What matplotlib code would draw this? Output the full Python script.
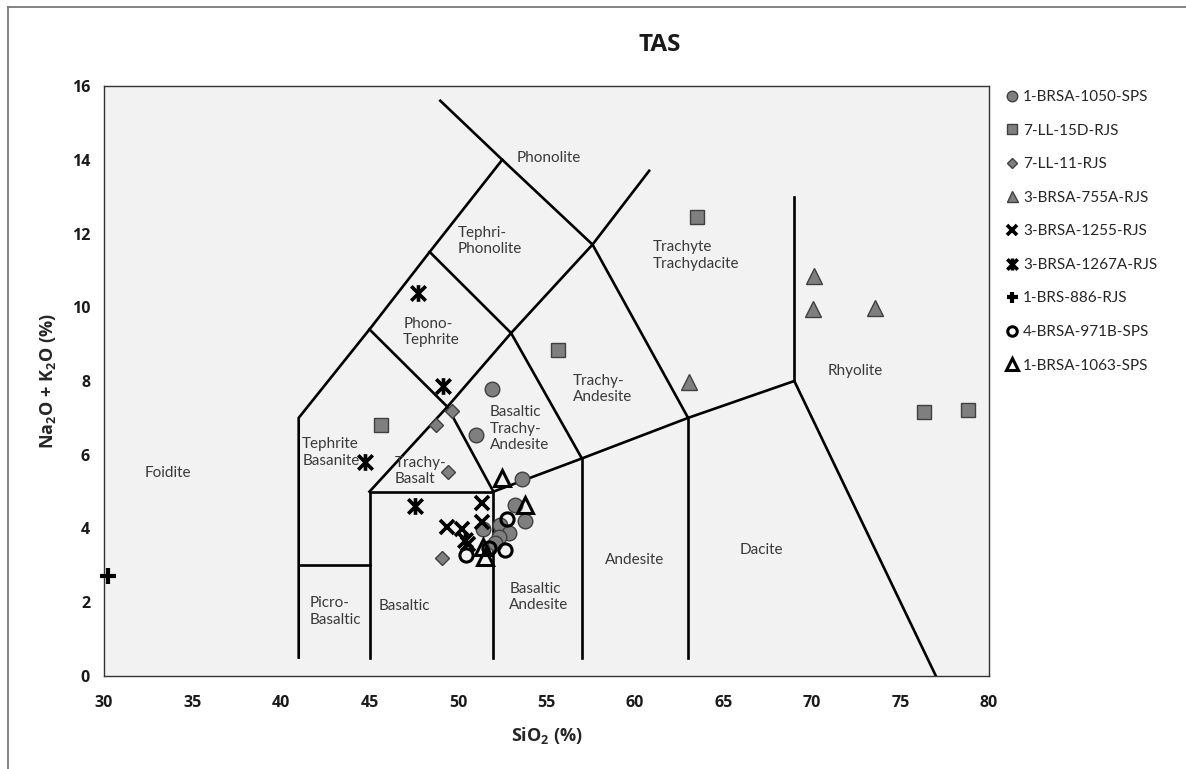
import matplotlib
matplotlib.use("Agg")
import matplotlib.pyplot as plt
from matplotlib.path import Path
from matplotlib.lines import Line2D

plt.rcParams['font.family'] = ['Lato', 'DejaVu Sans']
plt.rcParams['mathtext.default'] = 'regular'
BOLD_FAMILY = ['Open Sans', 'DejaVu Sans']

# ---- sample data (SiO2 %, Na2O + K2O %) ----
s1050_x = [51.9, 51.0, 53.6, 53.2, 53.8, 52.4, 52.9, 51.4, 52.3, 52.1]
s1050_y = [7.78, 6.54, 5.34, 4.64, 4.21, 4.09, 3.87, 3.98, 3.78, 3.60]

s15d_x = [45.65, 55.65, 63.5, 76.3, 78.8]
s15d_y = [6.81, 8.84, 12.46, 7.17, 7.22]

s11_x = [49.64, 48.76, 49.45, 49.08]
s11_y = [7.19, 6.80, 5.52, 3.19]

s755a_x = [70.13, 70.07, 73.56, 63.05]
s755a_y = [10.86, 9.94, 9.99, 7.97]

s1255_x = [51.34, 51.34, 49.36, 50.2, 50.55]
s1255_y = [4.68, 4.18, 4.05, 4.00, 3.58]

s1267a_x = [47.72, 49.17, 44.75, 47.57, 50.4]
s1267a_y = [10.38, 7.86, 5.81, 4.61, 3.69]

s886_x = [30.24]
s886_y = [2.71]

s971b_x = [52.75, 50.48, 52.65, 51.75]
s971b_y = [4.27, 3.28, 3.42, 3.48]

s1063_x = [52.46, 53.79, 51.43, 51.53]
s1063_y = [5.36, 4.64, 3.51, 3.24]

# ---- TAS field boundaries ----
tas_lines = [
    [(41, 0.5), (41, 7), (45, 9.4), (48.4, 11.5), (52.5, 14), (49.0, 15.6)],
    [(41, 3), (45, 3)],
    [(45, 0.5), (45, 5), (52, 5), (52, 0.5)],
    [(45, 5), (49.4, 7.3), (53, 9.3), (57.6, 11.7), (60.8, 13.7)],
    [(45, 9.4), (49.4, 7.3), (52, 5)],
    [(48.4, 11.5), (53, 9.3), (57, 5.9)],
    [(52.5, 14), (57.6, 11.7), (63, 7)],
    [(52, 5), (57, 5.9), (63, 7), (69, 8), (77.0, 0)],
    [(57, 0.5), (57, 5.9)],
    [(63, 0.5), (63, 7)],
    [(69, 8), (69, 13)],
]

field_labels = [
    ("Phonolite", 53.3, 14.05),
    ("Tephri-\nPhonolite", 50.0, 11.8),
    ("Trachyte\nTrachydacite", 61.0, 11.4),
    ("Phono-\nTephrite", 46.9, 9.33),
    ("Basaltic\nTrachy-\nAndesite", 51.8, 6.71),
    ("Trachy-\nAndesite", 56.5, 7.78),
    ("Rhyolite", 70.9, 8.28),
    ("Tephrite\nBasanite", 41.2, 6.07),
    ("Trachy-\nBasalt", 46.4, 5.56),
    ("Foidite", 32.3, 5.5),
    ("Picro-\nBasaltic", 41.6, 1.74),
    ("Basaltic", 45.5, 1.9),
    ("Basaltic\nAndesite", 52.9, 2.14),
    ("Andesite", 58.3, 3.15),
    ("Dacite", 65.9, 3.42),
]

# asterisk marker: an X crossed by a vertical bar
star_path = Path(
    [(-1, -1), (1, 1), (-1, 1), (1, -1), (0, -1.15), (0, 1.15)],
    [Path.MOVETO, Path.LINETO, Path.MOVETO, Path.LINETO, Path.MOVETO, Path.LINETO],
)

W, H = 1186, 769
fig = plt.figure(figsize=(W / 100, H / 100), dpi=100)
ax = fig.add_axes([104 / W, 1 - 676 / H, (989 - 104) / W, (676 - 86) / H])
ax.set_facecolor('#f2f2f2')

for seg in tas_lines:
    xs = [p[0] for p in seg]
    ys = [p[1] for p in seg]
    ax.plot(xs, ys, color='black', lw=1.9, solid_joinstyle='miter', zorder=2)

for txt, x, y in field_labels:
    ax.text(x, y, txt, fontsize=11, color='#3a3a3a', ha='left', va='center',
            linespacing=1.25, zorder=3)

grey = '#7f7f7f'
edge = '#404040'
series = [
    (s1050_x, s1050_y, "1-BRSA-1050-SPS",
     dict(marker='o', ms=10.5, mfc=grey, mec=edge, mew=1.0)),
    (s15d_x, s15d_y, "7-LL-15D-RJS",
     dict(marker='s', ms=9.5, mfc=grey, mec=edge, mew=1.0)),
    (s11_x, s11_y, "7-LL-11-RJS",
     dict(marker='D', ms=7.5, mfc=grey, mec=edge, mew=1.0)),
    (s755a_x, s755a_y, "3-BRSA-755A-RJS",
     dict(marker='^', ms=11, mfc=grey, mec=edge, mew=1.0)),
    (s1255_x, s1255_y, "3-BRSA-1255-RJS",
     dict(marker='x', ms=9.5, mfc='none', mec='black', mew=2.6)),
    (s1267a_x, s1267a_y, "3-BRSA-1267A-RJS",
     dict(marker=star_path, ms=12, mfc='none', mec='black', mew=2.6)),
    (s886_x, s886_y, "1-BRS-886-RJS",
     dict(marker='+', ms=11, mfc='none', mec='black', mew=3.0)),
    (s971b_x, s971b_y, "4-BRSA-971B-SPS",
     dict(marker='o', ms=9.5, mfc='none', mec='black', mew=2.2)),
    (s1063_x, s1063_y, "1-BRSA-1063-SPS",
     dict(marker='^', ms=11.5, mfc='none', mec='black', mew=2.2)),
]

handles = []
for xs, ys, name, st in series:
    ax.plot(xs, ys, ls='none', zorder=4, clip_on=False, **st)
    hst = dict(st)
    hst['ms'] = st['ms'] * 0.72
    handles.append(Line2D([], [], ls='none', label=name, **hst))

ax.set_xlim(30, 80)
ax.set_ylim(0, 16)
ax.set_xticks(range(30, 81, 5))
ax.set_yticks(range(0, 17, 2))
ax.tick_params(length=0, labelsize=11.5, labelcolor='#1a1a1a')
ax.tick_params(axis='x', pad=14)
ax.tick_params(axis='y', pad=10)
for lab in ax.get_xticklabels() + ax.get_yticklabels():
    lab.set_fontweight('bold')
    lab.set_family(BOLD_FAMILY)
for sp in ax.spines.values():
    sp.set_color('#333333')
    sp.set_linewidth(1.0)

ax.set_xlabel('SiO$_2$ (%)', fontsize=13, fontweight='bold', family=BOLD_FAMILY,
              color='#262626', labelpad=10)
ax.set_ylabel('Na$_2$O + K$_2$O (%)', fontsize=13, fontweight='bold', family=BOLD_FAMILY,
              color='#262626', labelpad=10)
fig.text(660 / W, 1 - 45 / H, 'TAS', fontsize=17.5, fontweight='bold', family=BOLD_FAMILY,
         color='#1a1a1a', ha='center', va='center')

fig.legend(handles=handles, loc='upper left', bbox_to_anchor=(1000 / W, 1 - 84 / H),
           frameon=False, fontsize=11, labelspacing=1.28, handlelength=0.8,
           handletextpad=0.3, borderaxespad=0, labelcolor='#262626')

# outer frame of the chart area
frame_kw = dict(color='#7a7a7a', lw=1.3, transform=fig.transFigure)
fig.add_artist(Line2D([8 / W, 1.01], [1 - 7 / H, 1 - 7 / H], **frame_kw))
fig.add_artist(Line2D([8 / W, 8 / W], [1 - 7 / H, -0.01], **frame_kw))

fig.savefig('out.png', dpi=100)
